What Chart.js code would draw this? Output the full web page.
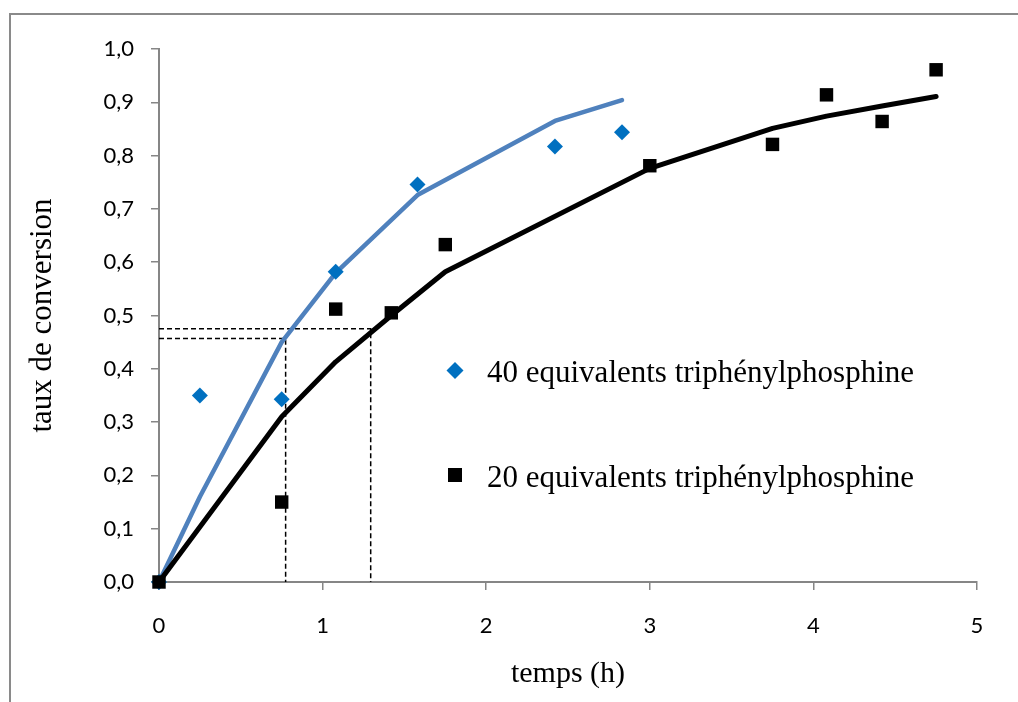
<!DOCTYPE html>
<html>
<head>
<meta charset="utf-8">
<script src="https://cdn.jsdelivr.net/npm/chart.js@4.4.1/dist/chart.umd.min.js"></script>
<style>
  body { margin: 0; background: #fff; }
  #wrap { position: relative; width: 1018px; height: 702px; overflow: hidden; }
  #frame { position: absolute; left: 9px; top: 13px; width: 1100px; height: 800px;
           border-left: 2px solid #8a8a8a; border-top: 2px solid #8a8a8a; }
  #myChart { position: absolute; left: 0; top: 0; }
</style>
</head>
<body>
<div id="wrap">
  <div id="frame"></div>
  <canvas id="myChart" width="1018" height="702"></canvas>
</div>
<script>
// time in hours
var time40 = [0, 0.25, 0.75, 1.08, 1.58, 2.42, 2.83];
var conv40 = [0, 0.35, 0.343, 0.582, 0.746, 0.817, 0.844];
var fit40 = [0, 0.16, 0.45, 0.58, 0.726, 0.865, 0.904];

var time20 = [0, 0.75, 1.08, 1.42, 1.75, 3.0, 3.75, 4.08, 4.42, 4.75];
var conv20 = [0, 0.15, 0.512, 0.505, 0.633, 0.781, 0.821, 0.914, 0.864, 0.961];
var fit20 = [0, 0.31, 0.413, 0.50, 0.582, 0.776, 0.851, 0.874, 0.893, 0.911];

// half-conversion guides (t, taux)
var half40 = [0.774, 0.457];
var half20 = [1.294, 0.475];

var yTickLabels = ['0,0', '0,1', '0,2', '0,3', '0,4', '0,5', '0,6', '0,7', '0,8', '0,9', '1,0'];
var xTickLabels = ['0', '1', '2', '3', '4', '5'];

var legendLabels = ['40 equivalents triphénylphosphine', '20 equivalents triphénylphosphine'];

function toPoints(xs, ys) {
    var arr = [];
    xs.forEach(function(x, i) { arr.push({ x: x, y: ys[i] }); });
    return arr;
}
function guide(h) {
    return [{ x: 0, y: h[1] }, { x: h[0], y: h[1] }, { x: h[0], y: 0 }];
}

const ctx = document.getElementById('myChart');
const axisGrey = '#868686';
const serif = '"Liberation Serif", "Times New Roman", serif';

const legendPlugin = {
    id: 'sideLegend',
    afterDatasetsDraw(chart) {
        const c = chart.ctx;
        c.save();
        // diamond
        c.fillStyle = '#0070C0';
        c.beginPath();
        c.moveTo(455, 362); c.lineTo(463.5, 370.5); c.lineTo(455, 379); c.lineTo(446.5, 370.5);
        c.closePath(); c.fill();
        // square
        c.fillStyle = '#000';
        c.fillRect(448, 468, 14, 14);
        c.fillStyle = '#000';
        c.font = '31px ' + serif;
        c.textBaseline = 'alphabetic';
        c.textAlign = 'left';
        c.fillText(legendLabels[0], 487, 382);
        c.fillText(legendLabels[1], 487, 487);
        c.restore();
    }
};

new Chart(ctx, {
    type: 'scatter',
    data: {
        datasets: [
            {
                label: legendLabels[1],
                data: toPoints(time20, conv20),
                pointStyle: 'rect',
                pointRadius: 9.5,
                pointBackgroundColor: '#000',
                pointBorderWidth: 0,
                showLine: false,
                clip: false
            },
            {
                label: legendLabels[0],
                data: toPoints(time40, conv40),
                pointStyle: 'rectRot',
                pointRadius: 8,
                pointBackgroundColor: '#0070C0',
                pointBorderWidth: 0,
                showLine: false,
                clip: false
            },
            {
                data: toPoints(time20, fit20),
                showLine: true,
                borderColor: '#000',
                borderWidth: 5,
                pointRadius: 0,
                borderCapStyle: 'round',
                borderJoinStyle: 'round',
                clip: false
            },
            {
                data: toPoints(time40, fit40),
                showLine: true,
                borderColor: '#4F81BD',
                borderWidth: 4.5,
                pointRadius: 0,
                borderCapStyle: 'round',
                borderJoinStyle: 'round',
                clip: false
            },
            {
                data: guide(half40),
                showLine: true,
                borderColor: '#000',
                borderWidth: 1.5,
                borderDash: [5, 3],
                pointRadius: 0
            },
            {
                data: guide(half20),
                showLine: true,
                borderColor: '#000',
                borderWidth: 1.5,
                borderDash: [5, 3],
                pointRadius: 0
            }
        ]
    },
    options: {
        responsive: false,
        animation: false,
        layout: { padding: { left: 0, top: 49, right: 41, bottom: 0 } },
        plugins: {
            legend: { display: false },
            tooltip: { enabled: false }
        },
        scales: {
            x: {
                type: 'linear',
                min: 0,
                max: 5,
                afterFit: function(scale) { scale.height = 120; },
                ticks: {
                    stepSize: 1,
                    color: '#000',
                    padding: 23,
                    font: { family: 'Lato', size: 22 },
                    callback: function(value, index) { return xTickLabels[index]; }
                },
                grid: { drawOnChartArea: false, drawTicks: true, tickLength: 8, color: axisGrey, lineWidth: 1.5 },
                border: { color: axisGrey, width: 2 },
                title: {
                    display: true,
                    text: 'temps (h)',
                    color: '#000',
                    font: { family: serif, size: 30 },
                    padding: { top: 0, bottom: 10 }
                }
            },
            y: {
                min: 0,
                max: 1,
                afterFit: function(scale) { scale.width = 159; },
                ticks: {
                    stepSize: 0.1,
                    color: '#000',
                    padding: 17,
                    font: { family: 'Lato', size: 22 },
                    callback: function(value, index) { return yTickLabels[index]; }
                },
                grid: { drawOnChartArea: false, drawTicks: true, tickLength: 8, color: axisGrey, lineWidth: 1.5 },
                border: { color: axisGrey, width: 2 },
                title: {
                    display: true,
                    text: 'taux de conversion',
                    color: '#000',
                    font: { family: serif, size: 31 },
                    padding: { top: 24, bottom: 0 }
                }
            }
        }
    },
    plugins: [legendPlugin]
});
</script>
</body>
</html>
